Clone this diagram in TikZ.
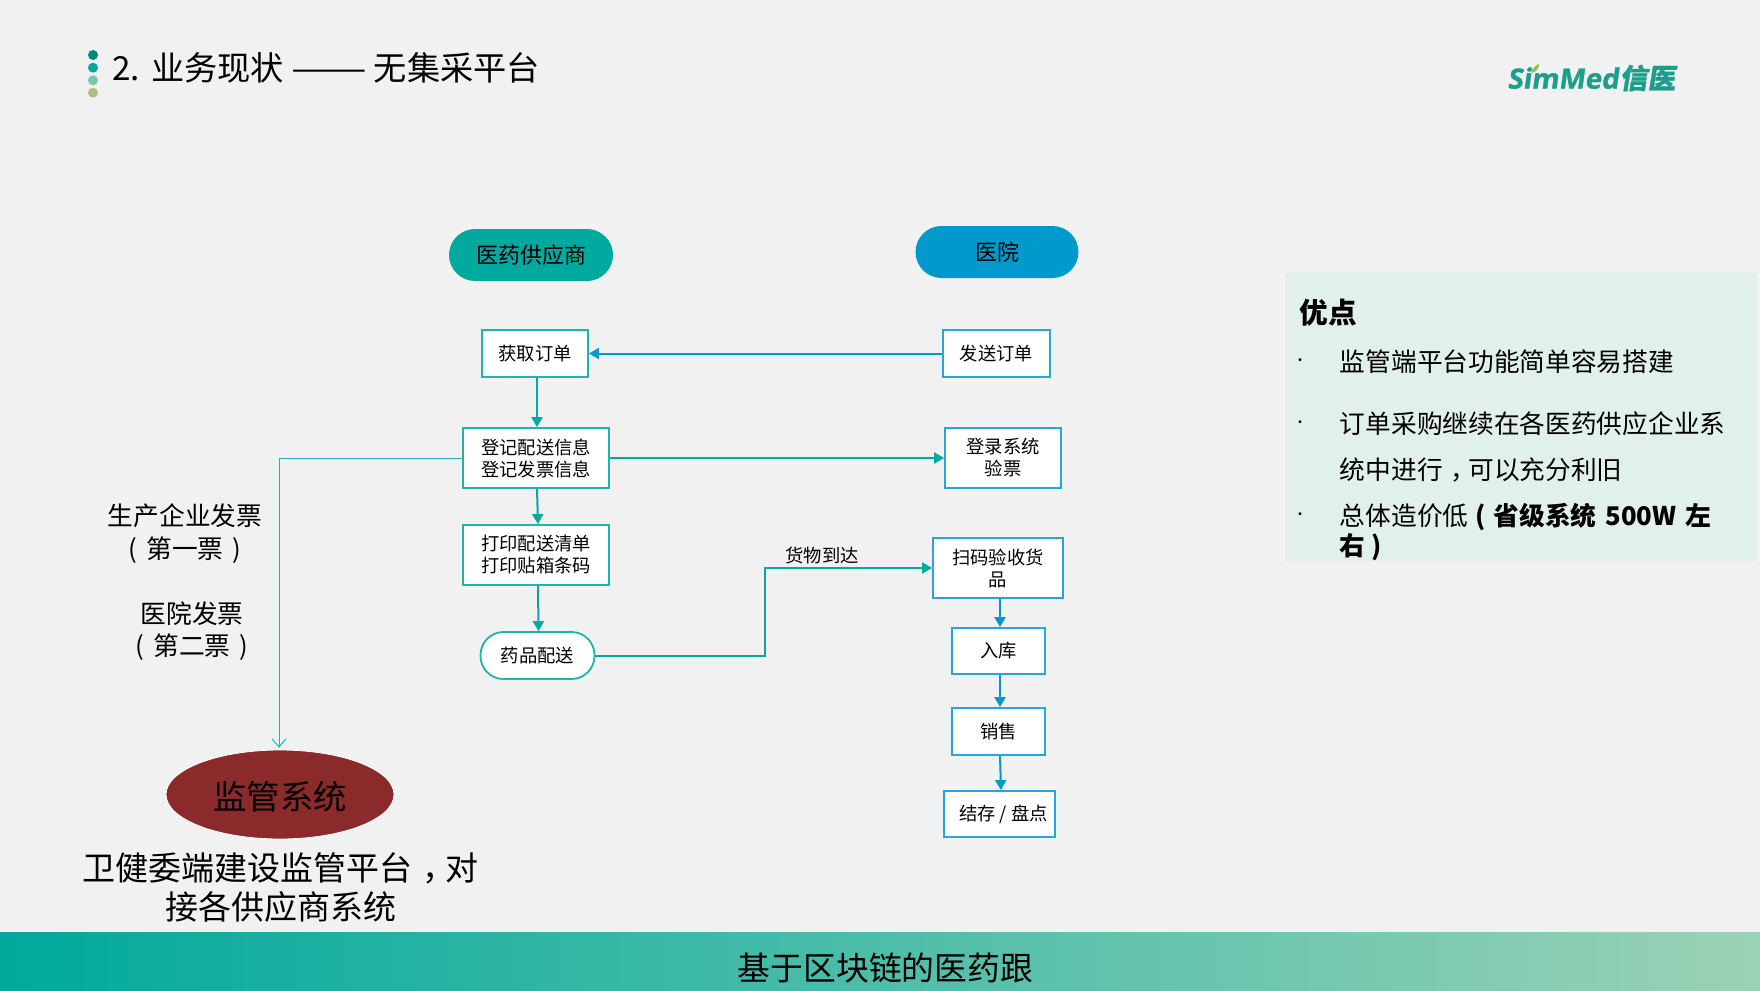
\documentclass[tikz,border=0pt]{standalone}
\usepackage{fontspec}
\setmainfont{Noto Sans CJK SC}
\newfontfamily\logolatin[FakeSlant=0.14,FakeBold=1.2]{Open Sans}
\newfontfamily\logocjk[FakeSlant=0.16,FakeBold=1]{Noto Sans CJK SC}
\usetikzlibrary{arrows.meta,positioning,shapes.geometric}
\newcommand{\fsz}[2]{\fontsize{#1}{#2}\selectfont}
\newcommand{\midcomma}{\hspace{0.3em}，\hspace{-0.3em}}
\definecolor{supteal}{HTML}{00A99D}
\definecolor{hospblue}{HTML}{0099CC}
\definecolor{boxteal}{HTML}{1FB5A8}
\definecolor{boxblue}{HTML}{27A6D8}
\definecolor{panelgreen}{HTML}{E2F0EB}
\definecolor{logogreen}{HTML}{1B9E8A}
\tikzset{
  headnode/.style={draw=none,rounded corners=13pt,minimum height=26pt,font=\fsz{11}{13}},
  sbox/.style={rectangle,draw=boxteal,fill=white,line width=0.9pt,inner sep=0pt,align=center,font=\fsz{9.15}{11}},
  hbox/.style={sbox,draw=boxblue},
  se/.style={-{Triangle[length=5pt,width=5.5pt]},draw=supteal,line width=1pt},
  he/.style={-{Triangle[length=5pt,width=5.5pt]},draw=hospblue,line width=1pt},
  sidetext/.style={inner sep=0pt,align=center,font=\fsz{12.85}{16.3}},
  paneltext/.style={anchor=west,inner sep=0pt,font=\fsz{12.85}{15}},
  paneldot/.style={anchor=center,inner sep=0pt,font=\fsz{7}{8}}
}
\begin{document}
\begin{tikzpicture}[x=0.5pt,y=-0.5pt]
\useasboundingbox (0,0) rectangle (1760,990);
\fill[black!5.5] (0,0) rectangle (1760,990);
% title with its four dots
\fill[fill={rgb,255:red,0;green,133;blue,122}] (93,55) circle (5);
\fill[fill=supteal] (93,67.7) circle (5);
\fill[fill={rgb,255:red,122;green,200;blue,165}] (93,80.3) circle (5);
\fill[fill={rgb,255:red,175;green,190;blue,135}] (93,92.7) circle (5);
\node[anchor=west,inner sep=0pt,font=\fsz{16.6}{20}] (title) at (112,67.7) {2.\hspace{5.5pt}业务现状\hspace{4pt}\scalebox{1.36}[1]{——}\hspace{3.2pt}无集采平台};
% logo
\node[anchor=west,inner sep=0pt,text=logogreen,font=\fsz{13.9}{16}\bfseries] (logo) at (1507,78) {\logolatin SimMed\hspace{0.5pt}\logocjk\bfseries 信医};
\fill[fill={rgb,255:red,140;green,198;blue,63}] (1531.5,73) .. controls (1532,68) and (1536,65) .. (1539,64) .. controls (1539,69) and (1536,72) .. (1531.5,73);
% column heads
\node[headnode,fill=supteal,minimum width=82pt] (supplier) at (531,255) {医药供应商};
\node[headnode,fill=hospblue,minimum width=81.5pt] (hospital) at (997,252) {医院};
% supplier column
\node[sbox,minimum width=53pt,minimum height=23.5pt] (getorder) at (535,353.5) {获取订单};
\node[sbox,minimum width=73pt,minimum height=30pt] (register) at (536,458) {登记配送信息\\登记发票信息};
\node[sbox,minimum width=73pt,minimum height=30pt] (printlist) at (536,555) {打印配送清单\\打印贴箱条码};
\node[sbox,rounded corners=11.5pt,minimum width=57pt,minimum height=23.5pt] (deliver) at (537.5,655.5) {药品配送};
% hospital column
\node[hbox,minimum width=53.5pt,minimum height=23.5pt] (sendorder) at (996.5,353.5) {发送订单};
\node[hbox,minimum width=58pt,minimum height=30pt] (login) at (1003,458) {登录系统\\验票};
\node[hbox,minimum width=65pt,minimum height=30pt] (scan) at (998,568) {扫码验收货\\品};
\node[hbox,minimum width=46.5pt,minimum height=23pt] (stockin) at (998.5,651) {入库};
\node[hbox,minimum width=46.5pt,minimum height=23.5pt] (sales) at (998.5,731.5) {销售};
\node[hbox,minimum width=55.5pt,minimum height=23pt] (stocktake) at (999.5,814) {\hspace{4pt}结存 / 盘点};
% regulator
\node[ellipse,draw=white,line width=0.4pt,fill={rgb,255:red,139;green,42;blue,42},minimum width=114pt,minimum height=44.5pt,inner sep=0pt,font=\fsz{16.7}{20}] (regulator) at (280,794.5) {};
\node[inner sep=0pt,font=\fsz{16.7}{20}] (regname) at (280,797) {监管系统};
\node[sidetext] (firstbill) at (185,533.5) {生产企业发票\\(\hspace{4.5pt}第一票\hspace{4.5pt})};
\node[sidetext] (secondbill) at (192,631) {医院发票\\(\hspace{4.5pt}第二票\hspace{4.5pt})};
\node[inner sep=0pt,align=center,font=\fsz{16.5}{19.5}] (regnote) at (280.5,887.5) {卫健委端建设监管平台\midcomma 对\\接各供应商系统};
% connectors
\draw[he] (sendorder) -- (getorder);
\draw[se] ([xshift=1pt]getorder.south) -- ([xshift=0.5pt]register.north);
\draw[se] ([xshift=0.5pt]register.south) -- ([xshift=1pt]printlist.north);
\draw[se] ([xshift=1pt]printlist.south) -- ([xshift=0.5pt]deliver.north);
\draw[se] (register) -- (login);
\coordinate (bendtop) at (765,568);
\coordinate (bendlow) at (765,655.5);
\draw[se] (deliver) -- (bendlow) -- (bendtop) -- (scan);
\node[inner sep=0pt,font=\fsz{9.15}{11}] (arrived) at (822,555) {货物到达};
\draw[he] ([xshift=1pt]scan.south) -- ([xshift=0.75pt]stockin.north);
\draw[he] ([xshift=0.75pt]stockin.south) -- ([xshift=0.75pt]sales.north);
\draw[he] ([xshift=0.75pt]sales.south) -- ([xshift=0.75pt]stocktake.north);
\coordinate (billcorner) at (279,458);
\draw[boxteal,line width=0.5pt,-{Straight Barb[length=4pt,width=7pt]}] (register) -- (billcorner) -- ([xshift=-0.5pt,yshift=1pt]regulator.north);
% advantages panel
\fill[panelgreen] (1285,273) rectangle (1757,561);
\node[anchor=west,inner sep=0pt,font=\fsz{14.3}{16}\bfseries] (advtitle) at (1299,313) {优点};
\node[paneldot] (dotone) at (1300,362) {·};
\node[paneldot] (dottwo) at (1300,424) {·};
\node[paneldot] (dotthree) at (1300,516) {·};
\node[paneltext] (advone) at (1339.5,362) {监管端平台功能简单容易搭建};
\node[paneltext] (advtwo) at (1339.5,424) {订单采购继续在各医药供应企业系};
\node[paneltext] (advtwob) at (1339.5,470) {统中进行\midcomma 可以充分利旧};
\node[paneltext] (advthree) at (1339.5,516.5) {总体造价低\hspace{3.5pt}\textbf{(\hspace{4pt}省级系统 \hspace{1.5pt}500W \hspace{1.5pt}左}};
\node[paneltext] (advthreeb) at (1339.5,547) {\textbf{右\hspace{3pt})}};
% footer band
\shade[left color=supteal,middle color={rgb,255:red,37;green,179;blue,162},right color={rgb,255:red,155;green,210;blue,182}] (0,932) rectangle (1760,990);
\node[inner sep=0pt,font=\fsz{16.4}{20}] (footer) at (885.5,968) {基于区块链的医药跟};
\end{tikzpicture}
\end{document}
